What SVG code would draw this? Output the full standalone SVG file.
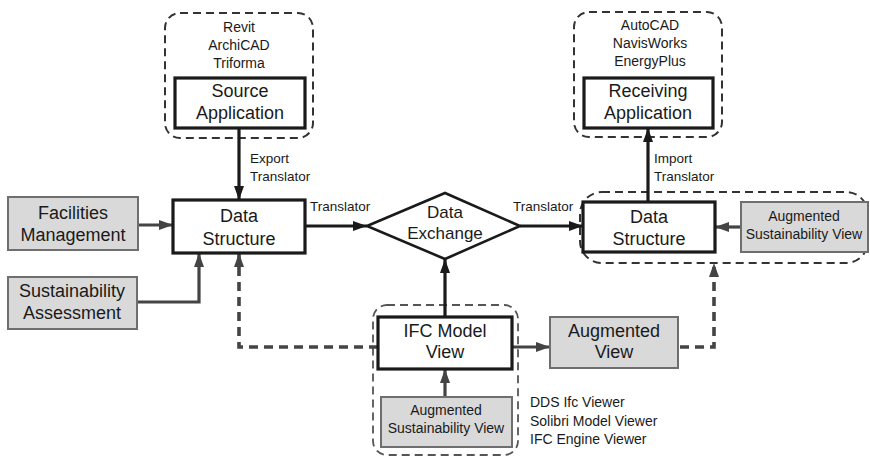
<svg xmlns="http://www.w3.org/2000/svg" width="870" height="457" viewBox="0 0 870 457">
<style>
text{font-family:"Liberation Sans",Arial,sans-serif;fill:#1a1a1a;text-anchor:middle}
.big{font-size:18px}
.mid{font-size:17px}
.sm{font-size:14px}
.lab{font-size:13.5px;text-anchor:start}
.main{fill:#fff;stroke:#1a1a1a;stroke-width:3.2}
.gray{fill:#d9d9d9;stroke:#6e6e6e;stroke-width:2}
.cont{fill:none;stroke:#333;stroke-width:2;stroke-dasharray:8 5}
.cont2{fill:none;stroke:#555;stroke-width:1.8;stroke-dasharray:8 5}
.cb{fill:none;stroke:#1a1a1a;stroke-width:3.2}
.cg{fill:none;stroke:#444;stroke-width:3.2}
.cd{fill:none;stroke:#444;stroke-width:3.6;stroke-dasharray:9 6}
</style>
<defs>
<marker id="ab" viewBox="0 0 14 10" refX="14" refY="5" markerWidth="14" markerHeight="10" markerUnits="userSpaceOnUse" orient="auto"><path d="M0,0 L14,5 L0,10 z" fill="#1a1a1a"/></marker>
<marker id="ag" viewBox="0 0 14 10" refX="14" refY="5" markerWidth="14" markerHeight="10" markerUnits="userSpaceOnUse" orient="auto"><path d="M0,0 L14,5 L0,10 z" fill="#444"/></marker>
</defs>
<rect width="870" height="457" fill="#fff"/>

<g id="containers">
<rect class="cont" x="165" y="13" width="148" height="125" rx="15"/>
<rect class="cont" x="574" y="12" width="148" height="125" rx="15"/>
<rect class="cont" x="580" y="192" width="288" height="71" rx="22"/>
<rect class="cont2" x="373" y="305" width="145" height="150" rx="14"/>
</g>

<g id="connectors">
<line class="cb" x1="239" y1="128" x2="239" y2="200" marker-end="url(#ab)"/>
<line class="cg" x1="138" y1="225" x2="173" y2="225" marker-end="url(#ag)"/>
<path class="cg" d="M137,302 H199 V253" marker-end="url(#ag)"/>
<path class="cd" d="M378,347 H239 V253" marker-end="url(#ag)"/>
<line class="cb" x1="305" y1="226" x2="367" y2="226" marker-end="url(#ab)"/>
<line class="cb" x1="520" y1="226" x2="583" y2="226" marker-end="url(#ab)"/>
<line class="cb" x1="445" y1="317" x2="445" y2="259" marker-end="url(#ab)"/>
<line class="cg" x1="445" y1="397" x2="445" y2="369" marker-end="url(#ag)"/>
<line class="cg" x1="512" y1="347" x2="550" y2="347" marker-end="url(#ag)"/>
<path class="cd" d="M680,347 H714 V263" marker-end="url(#ag)"/>
<line class="cg" x1="741" y1="227" x2="715" y2="227" marker-end="url(#ag)"/>
<line class="cb" x1="648" y1="202" x2="648" y2="128" marker-end="url(#ab)"/>
<text class="lab" x="250" y="163">Export</text>
<text class="lab" x="250" y="181">Translator</text>
<text class="lab" x="654" y="163">Import</text>
<text class="lab" x="654" y="181">Translator</text>
<text class="lab" x="310" y="211">Translator</text>
<text class="lab" x="513" y="211">Translator</text>
</g>

<g id="source-app">
<text class="sm" x="239" y="32">Revit</text>
<text class="sm" x="239" y="50">ArchiCAD</text>
<text class="sm" x="239" y="68">Triforma</text>
<rect class="main" x="175" y="78" width="130" height="50"/>
<text class="big" x="240" y="97">Source</text>
<text class="big" x="240" y="119">Application</text>
</g>

<g id="receiving-app">
<text class="sm" x="650" y="30">AutoCAD</text>
<text class="sm" x="650" y="48">NavisWorks</text>
<text class="sm" x="650" y="66">EnergyPlus</text>
<rect class="main" x="584" y="78" width="129" height="50"/>
<text class="big" x="648" y="97">Receiving</text>
<text class="big" x="648" y="119">Application</text>
</g>

<g id="facilities">
<rect class="gray" x="8" y="197" width="130" height="53"/>
<text class="big" x="73" y="219">Facilities</text>
<text class="big" x="73" y="241">Management</text>
</g>

<g id="sustainability">
<rect class="gray" x="8" y="277" width="129" height="52"/>
<text class="big" x="72" y="297">Sustainability</text>
<text class="big" x="72" y="319">Assessment</text>
</g>

<g id="data-structure-left">
<rect class="main" x="173" y="200" width="132" height="53"/>
<text class="big" x="239" y="222">Data</text>
<text class="big" x="239" y="245">Structure</text>
</g>

<g id="data-exchange">
<polygon points="367,226 445,193 520,226 445,259" fill="#fff" stroke="#1a1a1a" stroke-width="2.6" stroke-linejoin="miter"/>
<text class="mid" x="445" y="218">Data</text>
<text class="mid" x="445" y="239">Exchange</text>
</g>

<g id="data-structure-right">
<rect class="main" x="583" y="202" width="132" height="50"/>
<text class="big" x="649" y="223">Data</text>
<text class="big" x="649" y="245">Structure</text>
</g>

<g id="asv-right">
<rect class="gray" x="741" y="202" width="127" height="50"/>
<text class="sm" x="804" y="221">Augmented</text>
<text class="sm" x="804" y="239">Sustainability View</text>
</g>

<g id="ifc-model-view">
<rect class="main" x="378" y="317" width="134" height="52"/>
<text class="big" x="445" y="337">IFC Model</text>
<text class="big" x="445" y="358">View</text>
</g>

<g id="augmented-view">
<rect class="gray" x="550" y="317" width="128" height="51"/>
<text class="big" x="614" y="337">Augmented</text>
<text class="big" x="614" y="358">View</text>
</g>

<g id="asv-bottom">
<rect class="gray" x="381" y="397" width="131" height="50"/>
<text class="sm" x="446" y="415">Augmented</text>
<text class="sm" x="446" y="433">Sustainability View</text>
</g>

<g id="viewers">
<text class="lab" x="530" y="407" style="font-size:14px">DDS Ifc Viewer</text>
<text class="lab" x="530" y="426" style="font-size:14px">Solibri Model Viewer</text>
<text class="lab" x="530" y="444" style="font-size:14px">IFC Engine Viewer</text>
</g>
</svg>
